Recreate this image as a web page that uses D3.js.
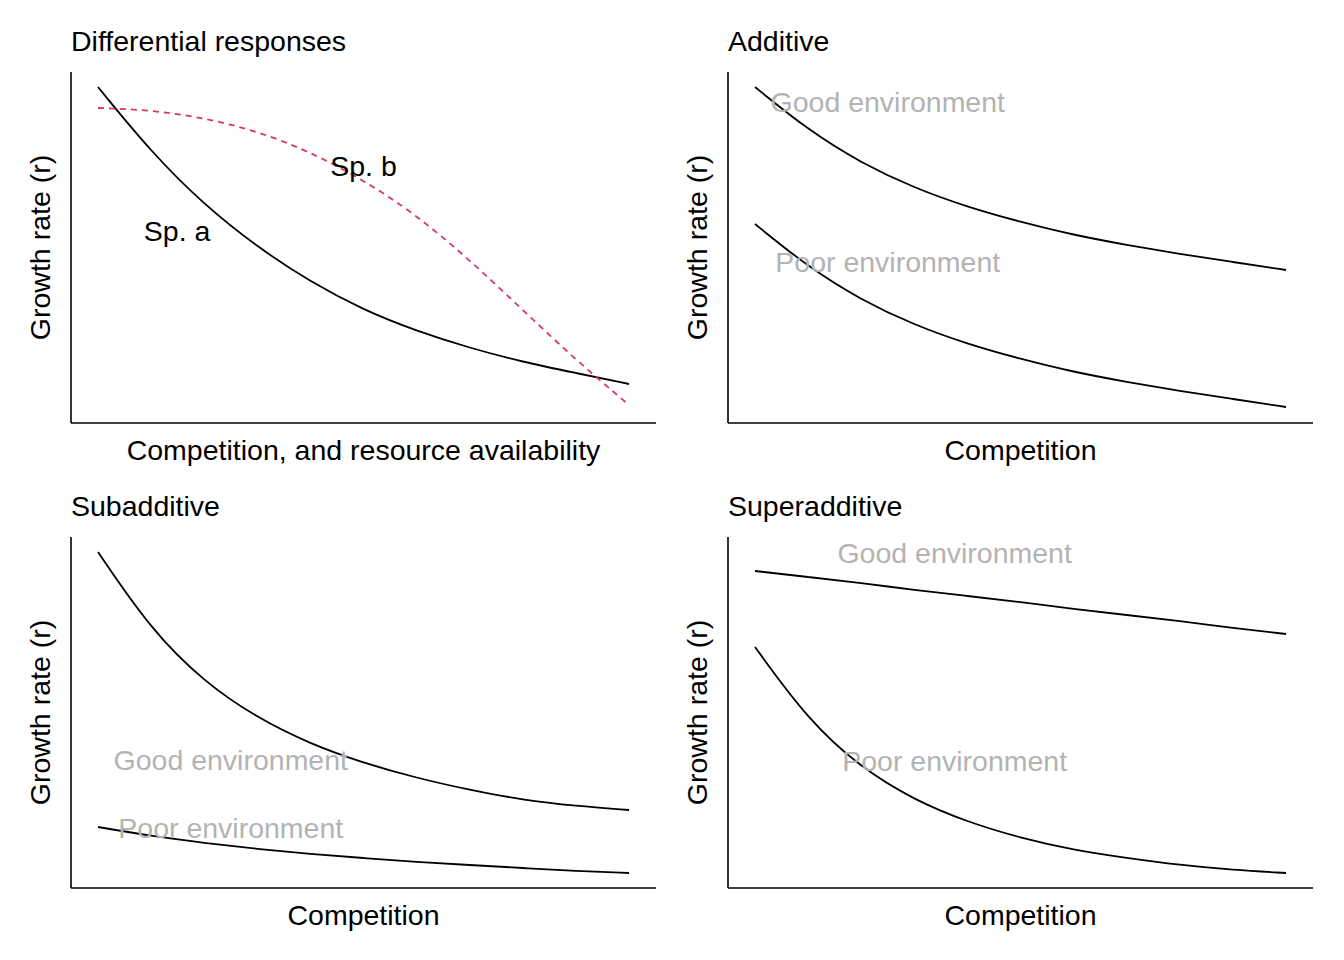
<!DOCTYPE html>
<html><head><meta charset="utf-8">
<script src="https://cdn.jsdelivr.net/npm/d3@7"></script>
<style>body{margin:0;background:#fff}text{font-family:"Liberation Sans",Arial,sans-serif}</style>
</head><body><svg id="c" width="1344" height="960"></svg>
<script>
const xs = [0,1,2,3,4,5,6,7,8,9,10];
const spA = [336,271,218,176,141,113,92,75,61,50,39];
const spB = [315,313,305,292,271,243,208,163,113,63,18];
const addGood = [336,293,260,235,216,201,188,178,169,161,153];
const addPoor = [199,156,123,98,79,64,51,41,32,24,16];
const subGood = [336,258,206,170,144,125,110,98,88,82,78];
const subPoor = [61,52,45,39,34,30,26,23,20,17,15];
const supGood = [317,311,305,298,292,286,279,273,267,260,254];
const supPoor = [241,168,120,88,66,50,38,30,23,18,15];
const titles = ["Differential responses","Additive","Subadditive","Superadditive"];
const xTitles = ["Competition, and resource availability","Competition","Competition","Competition"];

const panels = [
 {title:titles[0], xt:xTitles[0], ox:0, oy:0,
  lines:[{v:spA,c:"#000",d:null},{v:spB,c:"#d6395a",d:"6,5"}],
  labels:[{t:"Sp. a",x:1.49,y:192,c:"#000"},{t:"Sp. b",x:5.0,y:257,c:"#000"}]},
 {title:titles[1], xt:xTitles[1], ox:657, oy:0,
  lines:[{v:addGood,c:"#000"},{v:addPoor,c:"#000"}],
  labels:[{t:"Good environment",x:2.5,y:321,c:"#b3b3b3"},{t:"Poor environment",x:2.5,y:161,c:"#b3b3b3"}]},
 {title:titles[2], xt:xTitles[2], ox:0, oy:465,
  lines:[{v:subGood,c:"#000"},{v:subPoor,c:"#000"}],
  labels:[{t:"Good environment",x:2.5,y:128,c:"#b3b3b3"},{t:"Poor environment",x:2.5,y:60,c:"#b3b3b3"}]},
 {title:titles[3], xt:xTitles[3], ox:657, oy:465,
  lines:[{v:supGood,c:"#000"},{v:supPoor,c:"#000"}],
  labels:[{t:"Good environment",x:3.76,y:335,c:"#b3b3b3"},{t:"Poor environment",x:3.76,y:127,c:"#b3b3b3"}]}
];
const svg = d3.select("#c");
const fs = 28.5;
panels.forEach(p=>{
  const g = svg.append("g").attr("transform",`translate(${p.ox},${p.oy})`);
  const x = d3.scaleLinear().domain([-0.5085,10.508]).range([71,656]);
  const y = d3.scaleLinear().domain([0,351]).range([423,72]);
  g.append("line").attr("x1",71).attr("x2",656).attr("y1",423).attr("y2",423).attr("stroke","#000").attr("stroke-width",1.6);
  g.append("line").attr("x1",71).attr("x2",71).attr("y1",72).attr("y2",423).attr("stroke","#000").attr("stroke-width",1.6);
  const line = d3.line().x((d,i)=>x(xs[i])).y(d=>y(d)).curve(d3.curveBasis);
  p.lines.forEach(l=>{
    g.append("path").attr("d",line(l.v)).attr("fill","none").attr("stroke",l.c).attr("stroke-width",1.8).attr("stroke-dasharray",l.d||null);
  });
  p.labels.forEach(l=>{
    g.append("text").attr("x",x(l.x)).attr("y",y(l.y)).attr("dy","0.35em").attr("text-anchor","middle").attr("font-size",fs).attr("fill",l.c).text(l.t);
  });
  g.append("text").attr("x",71).attr("y",51).attr("font-size",fs).text(p.title);
  g.append("text").attr("x",363.5).attr("y",460).attr("text-anchor","middle").attr("font-size",fs).text(p.xt);
  g.append("text").attr("transform","translate(50,247.5) rotate(-90)").attr("text-anchor","middle").attr("font-size",fs).text("Growth rate (r)");
});
</script></body></html>
